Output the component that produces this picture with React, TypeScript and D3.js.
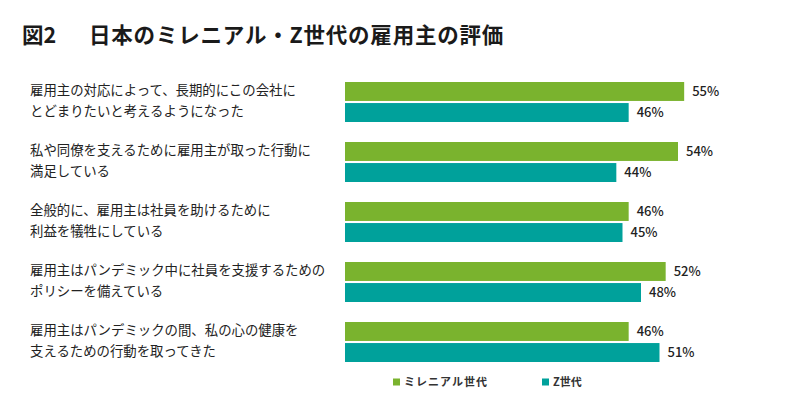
import { useEffect, useRef } from 'react';
import * as d3 from 'd3';

const categories = [
  ['雇用主の対応によって、長期的にこの会社に', 'とどまりたいと考えるようになった'],
  ['私や同僚を支えるために雇用主が取った行動に', '満足している'],
  ['全般的に、雇用主は社員を助けるために', '利益を犠牲にしている'],
  ['雇用主はパンデミック中に社員を支援するための', 'ポリシーを備えている'],
  ['雇用主はパンデミックの間、私の心の健康を', '支えるための行動を取ってきた'],
];
const series = ['ミレニアル世代', 'Z世代'];
const millennial = [55, 54, 46, 52, 46];
const genZ = [46, 44, 45, 48, 51];
const colors = ['#7ab32e', '#00a19b'];

export default function App() {
  const svgRef = useRef<SVGSVGElement>(null);

  useEffect(() => {
    if (!svgRef.current) return;
    d3.select(svgRef.current).selectAll('*').remove();

    const width = 799;
    const height = 399;
    const font = '"Noto Sans CJK JP", "Noto Sans", sans-serif';

    const svg = d3.select(svgRef.current)
      .attr('width', width)
      .attr('height', height)
      .style('font-family', font);

    svg.append('rect').attr('width', width).attr('height', height).attr('fill', '#fff');

    // Title
    const title = svg.append('text')
      .attr('y', 43)
      .attr('font-size', 21.5)
      .attr('font-weight', 'bold')
      .attr('fill', '#1a1a1a');
    title.append('tspan').attr('x', 22).text('図2');
    title.append('tspan').attr('x', 89).attr('letter-spacing', '0.8px').text('日本のミレニアル・Z世代の雇用主の評価');

    const keys = categories.map((_, i) => String(i));
    const y0 = d3.scaleBand<string>()
      .domain(keys)
      .range([82, 362])
      .paddingInner(1 / 3)
      .paddingOuter(0);

    const y1 = d3.scaleBand<string>()
      .domain(series)
      .range([0, y0.bandwidth()])
      .paddingInner(0.1);

    const x = d3.scaleLinear().domain([0, 60]).range([345, 715]);

    const rows = categories.map((c, i) => ({ key: String(i), lines: c, values: [millennial[i], genZ[i]] }));

    const g = svg.append('g').selectAll('g')
      .data(rows)
      .enter()
      .append('g')
      .attr('transform', d => `translate(0,${y0(d.key)})`);

    // Category labels
    g.each(function (d) {
      const sel = d3.select(this);
      d.lines.forEach((line, li) => {
        sel.append('text')
          .attr('x', 30)
          .attr('y', (y1(series[li]) as number) + y1.bandwidth() / 2 - 1)
          .attr('dy', '0.35em')
          .attr('font-size', 13.4)
          .attr('fill', '#222')
          .text(line);
      });
    });

    const bars = g.selectAll('g.bar')
      .data(d => d.values.map((v, si) => ({ v, s: series[si], si })))
      .enter()
      .append('g')
      .attr('class', 'bar');

    bars.append('rect')
      .attr('x', x(0))
      .attr('y', d => y1(d.s) as number)
      .attr('width', d => x(d.v) - x(0))
      .attr('height', y1.bandwidth())
      .attr('fill', d => colors[d.si]);

    bars.append('text')
      .attr('x', d => x(d.v) + 8)
      .attr('y', d => (y1(d.s) as number) + y1.bandwidth() / 2)
      .attr('dy', '0.35em')
      .attr('font-size', 13)
      .attr('font-weight', 500)
      .attr('fill', '#222')
      .text(d => `${d.v}%`);

    // Legend
    const legendX = [393, 542];
    const legend = svg.append('g').selectAll('g')
      .data(series)
      .enter()
      .append('g')
      .attr('transform', (_, i) => `translate(${legendX[i]},382)`);

    legend.append('rect')
      .attr('x', 0)
      .attr('y', -3.5)
      .attr('width', 7)
      .attr('height', 7)
      .attr('fill', (_, i) => colors[i]);

    legend.append('text')
      .attr('x', 11)
      .attr('y', 0)
      .attr('dy', '0.35em')
      .attr('font-size', 11)
      .attr('font-weight', 'bold')
      .attr('letter-spacing', (_, i) => (i === 0 ? '1px' : '0px'))
      .attr('fill', '#333')
      .text(d => d);
  }, []);

  return (
    <div style={{ margin: -8 }}>
      <svg ref={svgRef}></svg>
    </div>
  );
}
